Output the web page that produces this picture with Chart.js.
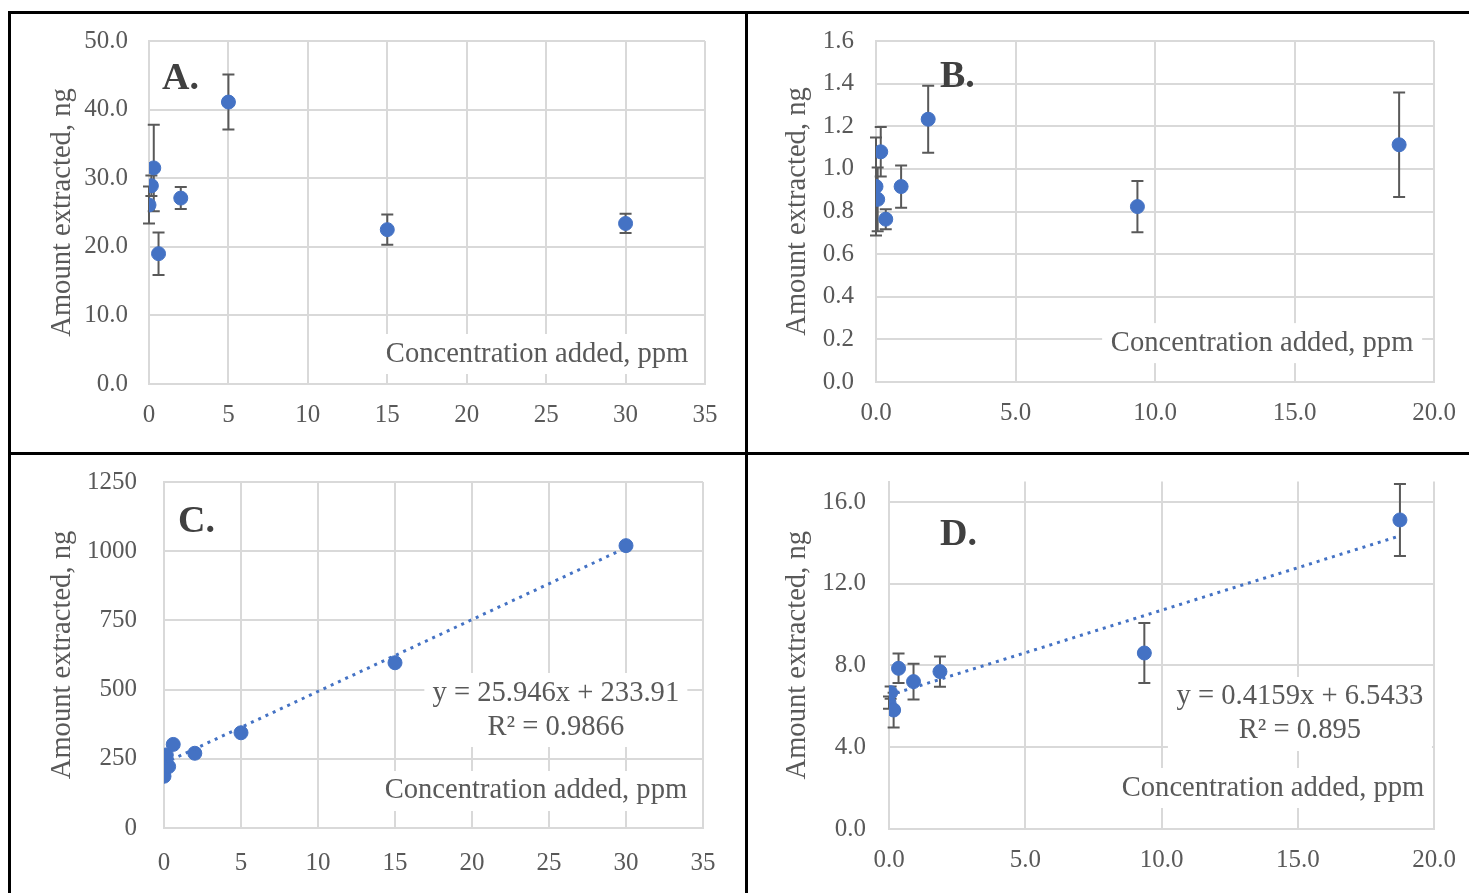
<!DOCTYPE html>
<html><head><meta charset="utf-8">
<script src="https://cdn.jsdelivr.net/npm/chart.js@4/dist/chart.umd.min.js"></script>
<style>
html,body{margin:0;padding:0;background:#fff;width:1469px;height:893px;overflow:hidden;}
.panel{position:absolute;}
.line{position:absolute;background:#000;}
</style></head><body>
<div class="line" style="left:8px;top:11px;width:1461px;height:3px"></div>
<div class="line" style="left:8px;top:11px;width:3px;height:882px"></div>
<div class="line" style="left:745px;top:11px;width:3px;height:882px"></div>
<div class="line" style="left:8px;top:452px;width:1461px;height:3px"></div>
<div class="panel" style="left:11px;top:14px;width:734px;height:438px"><canvas id="cA"></canvas></div>
<div class="panel" style="left:748px;top:14px;width:721px;height:438px"><canvas id="cB"></canvas></div>
<div class="panel" style="left:11px;top:455px;width:734px;height:438px"><canvas id="cC"></canvas></div>
<div class="panel" style="left:748px;top:455px;width:721px;height:438px"><canvas id="cD"></canvas></div>
<script>
// ---- data ----
const xAC = [0, 0.15, 0.3, 0.6, 2, 5, 15, 30];
const yA = [26.1, 28.9, 31.5, 19.0, 27.1, 41.1, 22.5, 23.4];
const errA = [2.7, 1.5, 6.3, 3.1, 1.6, 4.0, 2.2, 1.4];
const yC = [187, 264, 222, 302, 270, 344, 597, 1020];
const xBD = [0, 0.06, 0.17, 0.35, 0.9, 1.87, 9.37, 18.75];
const yB = [0.917, 0.857, 1.08, 0.764, 0.917, 1.233, 0.823, 1.113];
const errB = [0.23, 0.15, 0.116, 0.047, 0.099, 0.157, 0.12, 0.245];
const yD = [6.18, 6.67, 5.82, 7.86, 7.21, 7.7, 8.61, 15.12];
const errD = [0.3, 0.3, 0.85, 0.72, 0.88, 0.74, 1.47, 1.76];
const trendC = {slope: 25.946, intercept: 233.91, eq: 'y = 25.946x + 233.91', r2: 'R² = 0.9866'};
const trendD = {slope: 0.4159, intercept: 6.5433, eq: 'y = 0.4159x + 6.5433', r2: 'R² = 0.895'};
const xTitle = 'Concentration added, ppm';
const yTitle = 'Amount extracted, ng';

// ---- styles ----
const SERIF = "'Liberation Serif', 'Times New Roman', serif";
const BLUE = '#4472c4';
const GRID = '#d9d9d9';
const TXT = '#595959';
const TITLE_SIZE = 28.6;

const overlayPlugin = {
  id: 'overlay',
  beforeDatasetsDraw(chart) {
    const o = chart.options.plugins.overlay;
    const ctx = chart.ctx, ca = chart.chartArea;
    const xs = chart.scales.x, ys = chart.scales.y;
    const W = ca.right - ca.left, H = ca.bottom - ca.top;
    ctx.save();
    (o.boxes || []).forEach(b => {
      const cx = ca.left + b.fx * W, cy = ca.top + b.fy * H;
      ctx.fillStyle = '#fff';
      ctx.fillRect(cx - b.w / 2, cy - b.h / 2, b.w, b.h);
      ctx.fillStyle = TXT;
      ctx.font = TITLE_SIZE + 'px ' + SERIF;
      ctx.textAlign = 'center';
      ctx.textBaseline = 'middle';
      b.lines.forEach((t, i) => {
        ctx.fillText(t, cx, cy - (b.lines.length - 1) * b.ls / 2 + i * b.ls);
      });
    });
    ctx.fillStyle = '#404040';
    ctx.font = 'bold 38px ' + SERIF;
    ctx.textAlign = 'left';
    ctx.textBaseline = 'alphabetic';
    ctx.fillText(o.letter, ca.left + o.lx, ca.top + o.ly);
    if (o.err) {
      const pts = chart.data.datasets[0].data;
      ctx.strokeStyle = TXT;
      ctx.lineWidth = 2;
      pts.forEach((p, i) => {
        const px = xs.getPixelForValue(p.x);
        const t = ys.getPixelForValue(p.y + o.err[i]);
        const bt = ys.getPixelForValue(p.y - o.err[i]);
        ctx.beginPath();
        ctx.moveTo(px, t); ctx.lineTo(px, bt);
        ctx.moveTo(px - 6, t); ctx.lineTo(px + 6, t);
        ctx.moveTo(px - 6, bt); ctx.lineTo(px + 6, bt);
        ctx.stroke();
      });
    }
    ctx.restore();
  }
};

function pts(xs, ys) { return xs.map((x, i) => ({x: x, y: ys[i]})); }

function makeChart(id, c) {
  const datasets = [{
    data: pts(c.x, c.y), backgroundColor: BLUE, borderColor: BLUE,
    pointRadius: 7, pointHoverRadius: 7, showLine: false, order: 1
  }];
  if (c.trend) {
    const x0 = Math.min(...c.x), x1 = Math.max(...c.x);
    datasets.push({
      data: [{x: x0, y: c.trend.slope * x0 + c.trend.intercept}, {x: x1, y: c.trend.slope * x1 + c.trend.intercept}],
      showLine: true, borderColor: BLUE, borderWidth: 3, borderDash: [3, 5],
      pointRadius: 0, fill: false, order: 0
    });
  }
  const tickFont = {family: SERIF, size: 25};
  return new Chart(document.getElementById(id), {
    type: 'scatter',
    data: {datasets},
    options: {
      responsive: true, maintainAspectRatio: false, animation: false,
      layout: {padding: {left: 0, top: c.padTop, right: c.padRight, bottom: 0}},
      plugins: {
        legend: {display: false}, tooltip: {enabled: false},
        overlay: {err: c.err, boxes: c.boxes, letter: c.letter, lx: c.lx, ly: c.ly}
      },
      scales: {
        x: {
          type: 'linear', min: c.xmin, max: c.xmax,
          ticks: {stepSize: c.xstep, autoSkip: false, maxRotation: 0, font: tickFont, color: TXT,
                  padding: c.xPad, callback: v => v.toFixed(c.xdec)},
          grid: {color: GRID, lineWidth: 2, drawTicks: false},
          border: {color: GRID, width: 2},
          afterFit: s => { s.height = c.xH; s.paddingLeft = 0; s.paddingRight = 0; }
        },
        y: {
          type: 'linear', min: c.ymin, max: c.ymax,
          ticks: {stepSize: c.ystep, autoSkip: false, includeBounds: false, font: tickFont, color: TXT,
                  padding: c.yPad, callback: v => v.toFixed(c.ydec)},
          afterBuildTicks: s => { s.ticks = s.ticks.filter(t => Math.abs(t.value / c.ystep - Math.round(t.value / c.ystep)) < 1e-6); },
          grid: {color: GRID, lineWidth: 2, drawTicks: false},
          border: {color: GRID, width: 2},
          title: {display: true, text: yTitle, color: TXT, font: {family: SERIF, size: TITLE_SIZE}, padding: {top: c.tPad, bottom: 0}},
          afterFit: s => { s.width = c.yW; s.paddingTop = 0; s.paddingBottom = 0; }
        }
      }
    },
    plugins: [overlayPlugin]
  });
}

makeChart('cA', {
  x: xAC, y: yA, err: errA, xmin: 0, xmax: 35, xstep: 5, xdec: 0, ymin: 0, ymax: 50, ystep: 10, ydec: 1,
  padTop: 27, padRight: 40, yW: 138, xH: 68, xPad: 16, yPad: 21, tPad: 34,
  letter: 'A.', lx: 13, ly: 48,
  boxes: [{fx: 0.698, fy: 0.9125, w: 320, h: 40, ls: 0, lines: [xTitle]}]
});
makeChart('cB', {
  x: xBD, y: yB, err: errB, xmin: 0, xmax: 20, xstep: 5, xdec: 1, ymin: 0, ymax: 1.6, ystep: 0.2, ydec: 1,
  padTop: 27, padRight: 35, yW: 128, xH: 70, xPad: 16, yPad: 22, tPad: 32,
  letter: 'B.', lx: 64, ly: 46,
  boxes: [{fx: 0.692, fy: 0.886, w: 320, h: 40, ls: 0, lines: [xTitle]}]
});
makeChart('cC', {
  x: xAC, y: yC, trend: trendC, xmin: 0, xmax: 35, xstep: 5, xdec: 0, ymin: 0, ymax: 1250, ystep: 250, ydec: 0,
  padTop: 27, padRight: 42, yW: 153, xH: 65, xPad: 20, yPad: 27, tPad: 34,
  letter: 'C.', lx: 14, ly: 50,
  boxes: [{fx: 0.690, fy: 0.893, w: 320, h: 40, ls: 0, lines: [xTitle]},
          {fx: 0.727, fy: 0.659, w: 263, h: 74, ls: 34, lines: [trendC.eq, trendC.r2]}]
});
makeChart('cD', {
  x: xBD, y: yD, err: errD, trend: trendD, xmin: 0, xmax: 20, xstep: 5, xdec: 1, ymin: 0, ymax: 17, ystep: 4, ydec: 1,
  padTop: 26.5, padRight: 35, yW: 141, xH: 64, xPad: 16, yPad: 23, tPad: 32,
  letter: 'D.', lx: 51, ly: 63.5,
  boxes: [{fx: 0.7046, fy: 0.882, w: 320, h: 40, ls: 0, lines: [xTitle]},
          {fx: 0.754, fy: 0.669, w: 264, h: 74, ls: 34, lines: [trendD.eq, trendD.r2]}]
});
</script>
</body></html>
